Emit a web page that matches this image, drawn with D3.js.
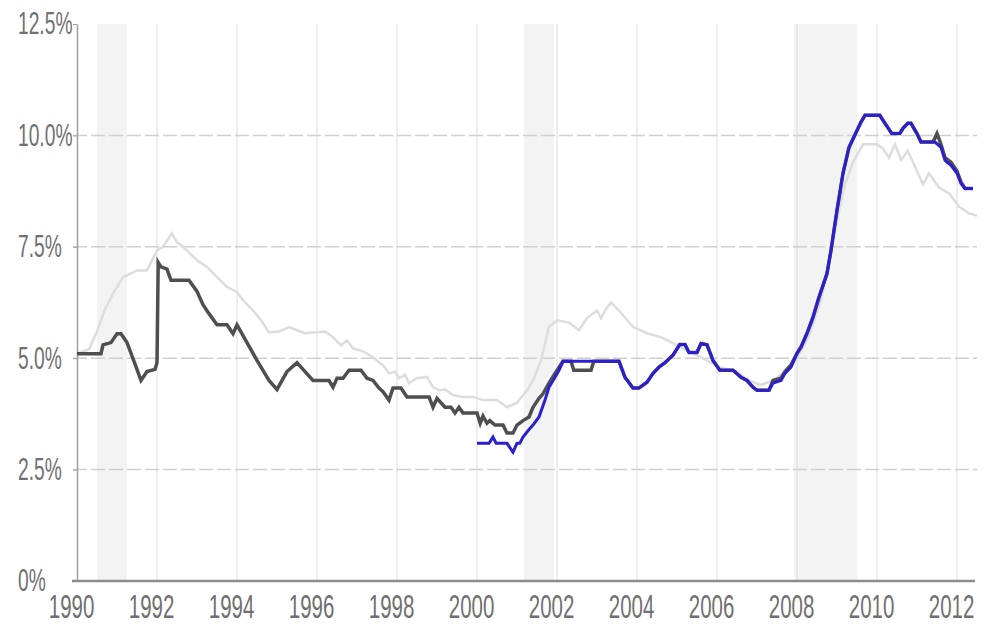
<!DOCTYPE html>
<html>
<head>
<meta charset="utf-8">
<script src="https://cdn.jsdelivr.net/npm/d3@7"></script>
<style>
	body { margin: 0; background: #fff; }
	#chart { width: 984px; height: 634px; }
	.axis text { font-family: "Liberation Sans Narrow", "Liberation Sans", Arial, sans-serif; fill: #707070; }
</style>
</head>
<body>
<div id="chart"></div>
<script>
// series, [year, percent]
var lightYears = [1990.0, 1990.3, 1990.5, 1990.7, 1990.9, 1991.15, 1991.5, 1991.75, 1991.9, 1992.0, 1992.15, 1992.37, 1992.5, 1992.65, 1993.0, 1993.25, 1993.5, 1993.75, 1994.0, 1994.15, 1994.4, 1994.6, 1994.8, 1995.05, 1995.3, 1995.7, 1996.2, 1996.4, 1996.6, 1996.75, 1996.9, 1997.15, 1997.4, 1997.65, 1997.8, 1997.95, 1998.05, 1998.2, 1998.3, 1998.5, 1998.75, 1998.9, 1999.05, 1999.2, 1999.4, 1999.65, 1999.9, 2000.15, 2000.5, 2000.75, 2001.0, 2001.25, 2001.4, 2001.6, 2001.8, 2002.0, 2002.3, 2002.55, 2002.75, 2003.0, 2003.1, 2003.25, 2003.35, 2003.55, 2003.9, 2004.25, 2004.6, 2005.0, 2005.4, 2005.75, 2006.07, 2006.5, 2006.8, 2007.1, 2007.4, 2007.7, 2008.0, 2008.3, 2008.6, 2008.8, 2009.0, 2009.2, 2009.4, 2009.65, 2010.0, 2010.15, 2010.3, 2010.45, 2010.6, 2010.77, 2011.0, 2011.15, 2011.3, 2011.55, 2011.8, 2012.05, 2012.3, 2012.5];
var lightValues = [5.1, 5.2, 5.6, 6.1, 6.45, 6.82, 6.97, 6.97, 7.24, 7.42, 7.5, 7.8, 7.6, 7.5, 7.2, 7.05, 6.82, 6.6, 6.48, 6.3, 6.07, 5.85, 5.58, 5.6, 5.7, 5.56, 5.6, 5.47, 5.29, 5.4, 5.22, 5.15, 5.02, 4.84, 4.66, 4.7, 4.55, 4.63, 4.44, 4.55, 4.58, 4.35, 4.28, 4.3, 4.17, 4.13, 4.13, 4.06, 4.06, 3.9, 4.0, 4.28, 4.5, 4.95, 5.7, 5.85, 5.8, 5.63, 5.9, 6.07, 5.9, 6.14, 6.25, 6.07, 5.7, 5.56, 5.47, 5.29, 5.11, 4.95, 4.8, 4.7, 4.5, 4.4, 4.5, 4.7, 5.0, 5.5, 6.3, 7.2, 8.1, 8.9, 9.4, 9.8, 9.8, 9.7, 9.5, 9.8, 9.45, 9.65, 9.2, 8.9, 9.15, 8.83, 8.7, 8.4, 8.25, 8.2];

var darkYears = [1990.0, 1990.6, 1990.65, 1990.85, 1991.0, 1991.1, 1991.25, 1991.5, 1991.6, 1991.75, 1991.95, 1992.0, 1992.03, 1992.1, 1992.25, 1992.35, 1992.8, 1993.0, 1993.15, 1993.3, 1993.5, 1993.75, 1993.9, 1994.0, 1994.25, 1994.5, 1994.8, 1995.0, 1995.25, 1995.5, 1995.65, 1995.9, 1996.3, 1996.4, 1996.5, 1996.65, 1996.8, 1997.1, 1997.25, 1997.4, 1997.55, 1997.65, 1997.8, 1997.9, 1998.1, 1998.25, 1998.8, 1998.9, 1999.0, 1999.2, 1999.35, 1999.45, 1999.55, 1999.65, 2000.0, 2000.08, 2000.15, 2000.25, 2000.32, 2000.45, 2000.65, 2000.75, 2000.9, 2001.0, 2001.15, 2001.3, 2001.4, 2001.55, 2001.65, 2001.8, 2001.95, 2002.15, 2002.35, 2002.42, 2002.85, 2002.92, 2003.55, 2003.7, 2003.9, 2004.05, 2004.25, 2004.4, 2004.55, 2004.7, 2004.9, 2005.07, 2005.2, 2005.3, 2005.5, 2005.6, 2005.75, 2005.9, 2006.07, 2006.4, 2006.6, 2006.75, 2006.9, 2007.0, 2007.3, 2007.4, 2007.6, 2007.7, 2007.85, 2008.0, 2008.1, 2008.25, 2008.4, 2008.55, 2008.75, 2008.85, 2009.0, 2009.15, 2009.3, 2009.5, 2009.6, 2009.7, 2010.07, 2010.2, 2010.37, 2010.57, 2010.65, 2010.77, 2010.85, 2011.0, 2011.1, 2011.4, 2011.5, 2011.6, 2011.7, 2011.85, 2012.0, 2012.1, 2012.2, 2012.4];
var darkValues = [5.1, 5.1, 5.3, 5.35, 5.55, 5.55, 5.35, 4.75, 4.5, 4.7, 4.75, 4.9, 7.15, 7.05, 7.0, 6.75, 6.75, 6.5, 6.2, 6.0, 5.75, 5.75, 5.55, 5.75, 5.35, 4.95, 4.5, 4.3, 4.7, 4.9, 4.75, 4.5, 4.5, 4.35, 4.55, 4.55, 4.73, 4.73, 4.55, 4.5, 4.33, 4.25, 4.06, 4.33, 4.33, 4.13, 4.13, 3.9, 4.1, 3.9, 3.9, 3.77, 3.9, 3.77, 3.77, 3.54, 3.7, 3.54, 3.6, 3.5, 3.5, 3.32, 3.32, 3.5, 3.6, 3.68, 3.9, 4.1, 4.2, 4.44, 4.66, 4.93, 4.93, 4.73, 4.73, 4.93, 4.93, 4.57, 4.33, 4.33, 4.46, 4.66, 4.8, 4.9, 5.07, 5.31, 5.31, 5.13, 5.13, 5.33, 5.3, 4.95, 4.73, 4.73, 4.57, 4.5, 4.35, 4.28, 4.28, 4.5, 4.55, 4.7, 4.85, 5.11, 5.25, 5.56, 5.92, 6.37, 6.9, 7.42, 8.32, 9.15, 9.73, 10.11, 10.3, 10.45, 10.45, 10.27, 10.04, 10.04, 10.16, 10.27, 10.27, 10.04, 9.85, 9.85, 10.04, 9.8, 9.5, 9.4, 9.2, 8.95, 8.81, 8.81];

var blueYears = [2000.0, 2000.3, 2000.4, 2000.48, 2000.75, 2000.9, 2001.0, 2001.07, 2001.15, 2001.3, 2001.4, 2001.55, 2001.7, 2001.8, 2001.95, 2002.05, 2002.15, 2003.55, 2003.7, 2003.9, 2004.05, 2004.25, 2004.4, 2004.55, 2004.7, 2004.9, 2005.07, 2005.2, 2005.3, 2005.5, 2005.6, 2005.75, 2005.9, 2006.07, 2006.4, 2006.6, 2006.75, 2006.9, 2007.0, 2007.3, 2007.4, 2007.6, 2007.7, 2007.85, 2008.0, 2008.1, 2008.25, 2008.4, 2008.55, 2008.75, 2008.85, 2009.0, 2009.15, 2009.3, 2009.5, 2009.6, 2009.7, 2010.07, 2010.2, 2010.37, 2010.57, 2010.65, 2010.77, 2010.85, 2011.0, 2011.1, 2011.45, 2011.6, 2011.7, 2011.85, 2012.0, 2012.1, 2012.2, 2012.4];
var blueValues = [3.09, 3.09, 3.23, 3.09, 3.09, 2.89, 3.09, 3.09, 3.23, 3.4, 3.5, 3.68, 4.06, 4.35, 4.57, 4.73, 4.93, 4.93, 4.57, 4.33, 4.33, 4.46, 4.66, 4.8, 4.9, 5.07, 5.31, 5.31, 5.13, 5.13, 5.33, 5.3, 4.95, 4.73, 4.73, 4.57, 4.5, 4.35, 4.28, 4.28, 4.44, 4.5, 4.66, 4.8, 5.11, 5.25, 5.56, 5.92, 6.37, 6.9, 7.42, 8.32, 9.15, 9.73, 10.11, 10.3, 10.45, 10.45, 10.27, 10.04, 10.04, 10.16, 10.27, 10.27, 10.04, 9.85, 9.85, 9.73, 9.44, 9.33, 9.15, 8.92, 8.81, 8.81];

// shaded recession periods
var bandStarts = [1990.5, 2001.17, 2007.92];
var bandEnds = [1991.25, 2001.92, 2009.5];

var yearTicks = [1990, 1992, 1994, 1996, 1998, 2000, 2002, 2004, 2006, 2008, 2010, 2012];
var pctTicks = [0, 2.5, 5, 7.5, 10, 12.5];
var pctLabels = ["0%", "2.5%", "5.0%", "7.5%", "10.0%", "12.5%"];

var margin = {top: 24, right: 7, left: 77, bottom: 53},
		width = 984 - margin.left - margin.right,
		height = 634 - margin.top - margin.bottom;

var x = d3.scaleLinear()
		.domain([1990, 2012.5])
		.range([0, width]);

var y = d3.scaleLinear()
		.domain([0, 12.5])
		.range([height, 0]);

var svg = d3.select("div#chart").append("svg")
		.attr("width", 984)
		.attr("height", 634)
	.append("g")
		.attr("transform", "translate(" + margin.left + "," + margin.top + ")");

// recession bands
svg.selectAll("rect.band")
	.data(bandStarts)
	.enter()
	.append("rect")
	.attr("class", "band")
	.attr("x", function(d) { return x(d); })
	.attr("width", function(d, i) { return x(bandEnds[i]) - x(d); })
	.attr("y", 0)
	.attr("height", height)
	.attr("fill", "#f3f3f3");

// vertical grid
svg.selectAll("line.vgrid")
	.data(yearTicks.slice(1))
	.enter()
	.append("line")
	.attr("class", "vgrid")
	.attr("x1", function(d) { return x(d); })
	.attr("x2", function(d) { return x(d); })
	.attr("y1", 0)
	.attr("y2", height)
	.attr("stroke", "#dcdcdc")
	.attr("stroke-width", 1);

// horizontal grid
svg.selectAll("line.hgrid")
	.data(pctTicks.slice(1, 5))
	.enter()
	.append("line")
	.attr("class", "hgrid")
	.attr("x1", -4)
	.attr("x2", width)
	.attr("y1", function(d) { return y(d); })
	.attr("y2", function(d) { return y(d); })
	.attr("stroke", "#d0d0d0")
	.attr("stroke-width", 1.5)
	.attr("stroke-dasharray", "14,4");

var sx = 0.62;

var yAxis = d3.axisLeft(y)
		.tickValues(pctTicks)
		.tickFormat(function(d, i) { return pctLabels[i]; })
		.tickSize(4)
		.tickSizeOuter(0);

var gy = svg.append("g")
	.attr("class", "y axis")
	.call(yAxis);
gy.select(".domain").attr("stroke", "#a0a0a0").attr("stroke-width", 1.5);
gy.selectAll(".tick line").attr("stroke", "#a0a0a0");
gy.selectAll(".tick text")
	.attr("text-anchor", "start")
	.attr("x", -59 / sx)
	.attr("transform", "scale(" + sx + ",1)")
	.style("font-size", "31px");

var xAxis = d3.axisBottom(x)
		.tickValues(yearTicks)
		.tickFormat(d3.format("d"))
		.tickSize(0)
		.tickSizeOuter(0);

var gx = svg.append("g")
	.attr("class", "x axis")
	.attr("transform", "translate(0," + height + ")")
	.call(xAxis);
gx.select(".domain").remove();
gx.append("line")
	.attr("x1", -5)
	.attr("x2", width - 2)
	.attr("stroke", "#8c8c8c")
	.attr("stroke-width", 2.5);
gx.selectAll(".tick text")
	.attr("x", -6 / sx)
	.attr("y", 14)
	.attr("transform", "scale(" + sx + ",1)")
	.style("font-size", "33px");

var line = d3.line()
		.x(function(d) { return x(d[0]); })
		.y(function(d) { return y(d[1]); });

function pairs(years, values) {
	return years.map(function(d, i) { return [d, values[i]]; });
}

svg.append("path")
	.datum(pairs(lightYears, lightValues))
	.attr("fill", "none")
	.attr("stroke", "#dddddd")
	.attr("stroke-width", 2.5)
	.attr("d", line);

svg.append("path")
	.datum(pairs(darkYears, darkValues))
	.attr("fill", "none")
	.attr("stroke", "#4f4f4f")
	.attr("stroke-width", 3.5)
	.attr("d", line);

svg.append("path")
	.datum(pairs(blueYears, blueValues))
	.attr("fill", "none")
	.attr("stroke", "#2b1fd0")
	.attr("stroke-width", 3)
	.attr("d", line);
</script>
</body>
</html>
